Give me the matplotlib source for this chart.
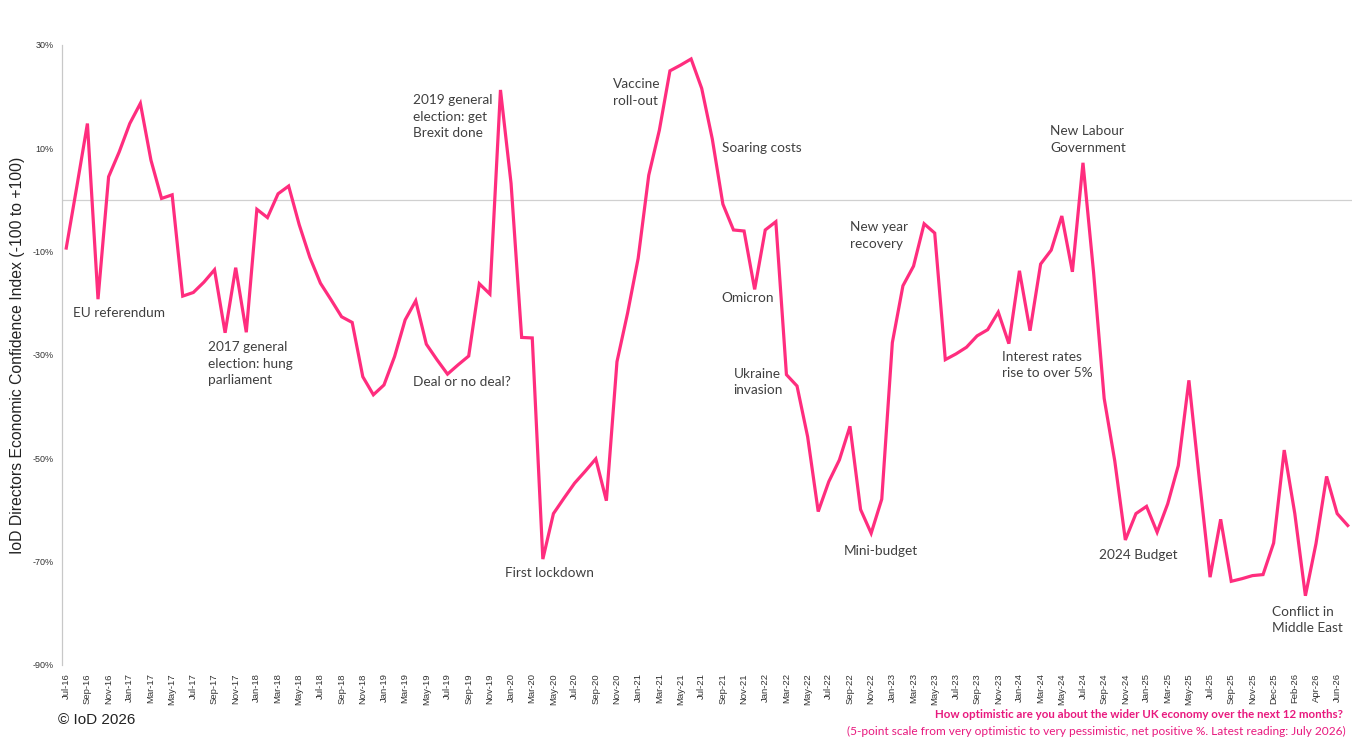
import matplotlib
matplotlib.use("Agg")
import matplotlib.pyplot as plt

# survey months; there are two readings in Nov-25
months = [
    "Jul-16", "Aug-16", "Sep-16", "Oct-16", "Nov-16", "Dec-16",
    "Jan-17", "Feb-17", "Mar-17", "Apr-17", "May-17", "Jun-17",
    "Jul-17", "Aug-17", "Sep-17", "Oct-17", "Nov-17", "Dec-17",
    "Jan-18", "Feb-18", "Mar-18", "Apr-18", "May-18", "Jun-18",
    "Jul-18", "Aug-18", "Sep-18", "Oct-18", "Nov-18", "Dec-18",
    "Jan-19", "Feb-19", "Mar-19", "Apr-19", "May-19", "Jun-19",
    "Jul-19", "Aug-19", "Sep-19", "Oct-19", "Nov-19", "Dec-19",
    "Jan-20", "Feb-20", "Mar-20", "Apr-20", "May-20", "Jun-20",
    "Jul-20", "Aug-20", "Sep-20", "Oct-20", "Nov-20", "Dec-20",
    "Jan-21", "Feb-21", "Mar-21", "Apr-21", "May-21", "Jun-21",
    "Jul-21", "Aug-21", "Sep-21", "Oct-21", "Nov-21", "Dec-21",
    "Jan-22", "Feb-22", "Mar-22", "Apr-22", "May-22", "Jun-22",
    "Jul-22", "Aug-22", "Sep-22", "Oct-22", "Nov-22", "Dec-22",
    "Jan-23", "Feb-23", "Mar-23", "Apr-23", "May-23", "Jun-23",
    "Jul-23", "Aug-23", "Sep-23", "Oct-23", "Nov-23", "Dec-23",
    "Jan-24", "Feb-24", "Mar-24", "Apr-24", "May-24", "Jun-24",
    "Jul-24", "Aug-24", "Sep-24", "Oct-24", "Nov-24", "Dec-24",
    "Jan-25", "Feb-25", "Mar-25", "Apr-25", "May-25", "Jun-25",
    "Jul-25", "Aug-25", "Sep-25", "Oct-25", "Nov-25", "Nov-25 (2)",
    "Dec-25", "Jan-26", "Feb-26", "Mar-26", "Apr-26", "May-26",
    "Jun-26", "Jul-26",
]

confidence = [
    -9.3, 2.6, 14.8, -19.2, 4.5, 9.3,
    14.8, 18.7, 7.7, 0.3, 1.0, -18.6,
    -17.9, -15.9, -13.5, -25.7, -13.1, -25.6,
    -1.8, -3.4, 1.2, 2.7, -4.8, -11.1,
    -16.1, -19.3, -22.6, -23.7, -34.2, -37.7,
    -35.8, -30.3, -23.2, -19.5, -27.9, -30.9,
    -33.7, -31.9, -30.2, -16.2, -18.2, 21.3,
    3.2, -26.6, -26.7, -69.5, -60.7, -57.7,
    -54.8, -52.5, -50.1, -58.2, -31.3, -21.9,
    -11.3, 4.8, 13.5, 25.0, 26.1, 27.3,
    21.6, 11.8, -0.8, -5.8, -6.0, -17.3,
    -5.8, -4.2, -33.8, -36.0, -45.8, -60.3,
    -54.5, -50.3, -43.8, -59.9, -64.5, -57.9,
    -27.6, -16.6, -12.8, -4.6, -6.4, -30.9,
    -29.8, -28.5, -26.3, -25.1, -21.7, -27.8,
    -13.7, -25.3, -12.4, -9.7, -3.1, -13.9,
    7.2, -14.0, -38.4, -50.5, -65.8, -60.7,
    -59.3, -64.3, -58.8, -51.4, -34.9, -54.3,
    -73.0, -61.8, -73.8, -73.3, -72.7, -72.5,
    -66.4, -48.4, -60.7, -76.6, -66.5, -53.5,
    -60.7, -63.0,
]

# event labels: text, left edge (in category steps), top edge (in index points)
note_text = [
    "EU referendum",
    "2017 general\nelection: hung\nparliament",
    "2019 general\nelection: get\nBrexit done",
    "Deal or no deal?",
    "First lockdown",
    "Vaccine\nroll-out",
    "Soaring costs",
    "Omicron",
    "Ukraine\ninvasion",
    "New year\nrecovery",
    "Mini-budget",
    "New Labour\nGovernment",
    "Interest rates\nrise to over 5%",
    "2024 Budget",
    "Conflict in\nMiddle East",
]
note_x = [0.66, 13.4, 32.7, 32.7, 41.4, 51.6, 61.9, 61.9, 63.0,
          74.0, 73.4, 92.9, 88.4, 97.5, 113.8]
note_y = [-20.7, -27.3, 20.5, -34.0, -71.0, 23.6, 11.2, -17.8, -32.5,
          -4.1, -66.7, 14.5, -29.2, -67.5, -78.5]

pink = "#FF2D7E"
caption_pink = "#E8197E"
grey_text = "#404040"

fig = plt.figure(figsize=(13.62, 7.48), dpi=100)
ax = fig.add_axes([62 / 1362, 1 - 665 / 748, 1290 / 1362, 620 / 748])

x = list(range(len(months)))
ax.plot(x, confidence, color=pink, lw=2.3, solid_joinstyle="miter")

ax.set_xlim(-0.4, len(months) - 0.6)
ax.set_ylim(-90, 30)
ax.axhline(0, color="#D0D0D0", lw=0.9, zorder=0)

for s in ["top", "right", "bottom"]:
    ax.spines[s].set_visible(False)
ax.spines["left"].set_color("#C8C8C8")
ax.spines["left"].set_linewidth(0.9)

yt = list(range(-90, 31, 20))
ax.set_yticks(yt)
ax.set_yticklabels([f"{v}%" for v in yt], fontsize=6.5, color="#333333",
                   family="Liberation Sans")

shown = [i for i in x if i % 2 == 0]
ax.set_xticks(shown)
ax.set_xticklabels([months[i] for i in shown], rotation=90, fontsize=6.8,
                   color="#333333", family="Liberation Sans")
ax.tick_params(axis="both", length=0, pad=6)

for t, nx, ny in zip(note_text, note_x, note_y):
    ax.text(nx, ny, t, fontsize=9.8, color=grey_text, family="Lato",
            va="top", ha="left", linespacing=1.45)

fig.text(18 / 1362, 1 - 355 / 748,
         "IoD Directors Economic Confidence Index (-100 to +100)",
         rotation=90, fontsize=11.3, color="#222222", family="Liberation Sans",
         ha="center", va="center")

fig.text(58 / 1362, 1 - 720 / 748, "\u00a9 IoD 2026", fontsize=11,
         color="#222222", family="Liberation Sans", ha="left", va="center")
fig.text(1343 / 1362, 1 - 714 / 748,
         "How optimistic are you about the wider UK economy over the next 12 months?",
         fontsize=8.3, color=caption_pink, fontweight="bold", family="Lato",
         ha="right", va="center")
fig.text(1346 / 1362, 1 - 731 / 748,
         "(5-point scale from very optimistic to very pessimistic, net positive %. "
         "Latest reading: July 2026)",
         fontsize=8.55, color=caption_pink, family="Lato",
         ha="right", va="center")

fig.savefig("out.png", dpi=100, facecolor="white")
